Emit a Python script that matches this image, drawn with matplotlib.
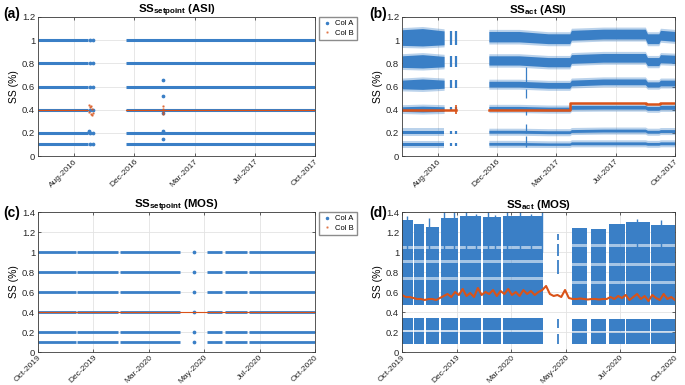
import numpy as np
import matplotlib
matplotlib.use('Agg')
import matplotlib.pyplot as plt
import matplotlib.dates as mdates
from matplotlib.lines import Line2D

plt.rcParams['font.family'] = ['Liberation Sans', 'DejaVu Sans']
plt.rcParams['mathtext.fontset'] = 'custom'
plt.rcParams['mathtext.rm'] = 'Liberation Sans'
plt.rcParams['mathtext.bf'] = 'Liberation Sans:bold'

azul = '#3a7fc6'
laranja = '#d95319'

#########################
##       dados         ##
#########################

niveis = [0.1, 0.2, 0.4, 0.6, 0.8, 1.0]

# ASI (a, b)
asi_xlim = ['2016-06-12', '2017-10-31']
asi_ticks = ['2016-08-17', '2016-12-05', '2017-03-25', '2017-07-13', '2017-10-31']
asi_labels = ['Aug-2016', 'Dec-2016', 'Mar-2017', 'Jul-2017', 'Oct-2017']

a_seg_start = ['2016-06-12', '2016-11-20']
a_seg_end = ['2016-09-11', '2017-10-31']
a_dot_dates = ['2016-09-15', '2016-09-20']
a_extra_dates = ['2016-09-14', '2016-09-14', '2017-01-27', '2017-01-27',
                 '2017-01-27', '2017-01-27', '2017-01-27']
a_extra_vals = [0.22, 0.21, 0.66, 0.52, 0.37, 0.22, 0.15]
a_or_dates = ['2016-09-13', '2016-09-14', '2016-09-15', '2016-09-16', '2016-09-17',
              '2016-09-18', '2016-09-19', '2016-09-20', '2017-01-26', '2017-01-26',
              '2017-01-27', '2017-01-27']
a_or_vals = [0.44, 0.38, 0.42, 0.36, 0.43, 0.35, 0.41, 0.37, 0.43, 0.38, 0.41, 0.36]

b1_dates = ['2016-06-12', '2016-07-20', '2016-08-29']
b1_lo = [[0.09, 0.09, 0.09], [0.19, 0.19, 0.19], [0.385, 0.38, 0.385],
         [0.58, 0.575, 0.585], [0.765, 0.76, 0.77], [0.955, 0.95, 0.96]]
b1_hi = [[0.115, 0.115, 0.115], [0.22, 0.22, 0.22], [0.425, 0.43, 0.425],
         [0.655, 0.665, 0.655], [0.865, 0.875, 0.86], [1.09, 1.10, 1.08]]
b_strip_dates = ['2016-09-11', '2016-09-20']

b2_dates = ['2016-11-20', '2017-01-15', '2017-03-10', '2017-04-19', '2017-04-22', '2017-06-20',
            '2017-09-06', '2017-09-10', '2017-10-01', '2017-10-04', '2017-10-31']
b2_lo = [[0.093, 0.093, 0.092, 0.092, 0.097, 0.097, 0.097, 0.093, 0.093, 0.097, 0.097],
         [0.197, 0.197, 0.193, 0.193, 0.203, 0.207, 0.207, 0.197, 0.197, 0.203, 0.203],
         [0.393, 0.393, 0.388, 0.388, 0.403, 0.405, 0.405, 0.395, 0.395, 0.403, 0.403],
         [0.595, 0.595, 0.585, 0.585, 0.605, 0.615, 0.615, 0.595, 0.595, 0.605, 0.605],
         [0.785, 0.785, 0.77, 0.77, 0.80, 0.81, 0.81, 0.78, 0.78, 0.805, 0.80],
         [0.985, 0.985, 0.97, 0.97, 1.00, 1.01, 1.01, 0.97, 0.97, 1.00, 0.99]]
b2_hi = [[0.117, 0.117, 0.113, 0.113, 0.122, 0.122, 0.122, 0.117, 0.117, 0.122, 0.122],
         [0.222, 0.222, 0.218, 0.218, 0.228, 0.232, 0.232, 0.222, 0.222, 0.228, 0.228],
         [0.428, 0.428, 0.422, 0.422, 0.437, 0.437, 0.437, 0.428, 0.428, 0.437, 0.437],
         [0.645, 0.645, 0.635, 0.635, 0.655, 0.665, 0.665, 0.64, 0.64, 0.655, 0.655],
         [0.865, 0.865, 0.85, 0.85, 0.875, 0.885, 0.885, 0.85, 0.85, 0.875, 0.87],
         [1.075, 1.075, 1.055, 1.055, 1.085, 1.095, 1.095, 1.055, 1.055, 1.085, 1.075]]
b_spike_date = '2017-01-27'
b_spike_lo = [0.08, 0.20, 0.35, 0.50, 0.64]
b_spike_hi = [0.17, 0.28, 0.42, 0.58, 0.77]

b1_or_dates = ['2016-06-12', '2016-09-21']
b1_or_vals = [0.395, 0.395]
b2_or_dates = ['2016-11-20', '2017-04-20', '2017-09-08', '2017-10-03', '2017-10-31']
b2_or_vals = [0.395, 0.457, 0.447, 0.46, 0.46]

# MOS (c, d)
mos_xlim = ['2019-10-15', '2020-10-09']
mos_ticks = ['2019-10-15', '2019-12-26', '2020-03-07', '2020-05-18', '2020-07-29', '2020-10-09']
mos_labels = ['Oct-2019', 'Dec-2019', 'Mar-2020', 'May-2020', 'Jul-2020', 'Oct-2020']

c_seg_start = ['2019-10-15', '2019-12-05', '2020-01-30', '2020-05-22', '2020-06-14', '2020-07-15']
c_seg_end = ['2019-12-03', '2020-01-27', '2020-04-17', '2020-06-10', '2020-07-13', '2020-10-09']
c_dot_dates = ['2020-05-05']

d_seg_start = ['2019-10-15', '2019-10-31', '2019-11-15', '2019-12-05', '2019-12-30', '2020-01-30',
               '2020-02-25', '2020-05-26', '2020-06-20', '2020-07-14', '2020-08-06', '2020-09-08']
d_seg_end = ['2019-10-29', '2019-11-13', '2019-12-03', '2019-12-28', '2020-01-27', '2020-02-23',
             '2020-04-18', '2020-06-15', '2020-07-10', '2020-08-04', '2020-09-06', '2020-10-09']
d_seg_top = [1.32, 1.28, 1.25, 1.34, 1.36, 1.35, 1.36, 1.24, 1.23, 1.28, 1.30, 1.27]
d_seg_late = [0, 0, 0, 0, 0, 0, 0, 1, 1, 1, 1, 1]
d_early_lo = [0.08, 0.22, 0.47, 0.745, 0.915, 1.065]
d_early_hi = [0.20, 0.34, 0.715, 0.885, 1.035]
d_late_lo = [0.08, 0.21, 0.47, 0.71, 0.89, 1.08]
d_late_hi = [0.185, 0.325, 0.68, 0.855, 1.05]
d_spike_dates = ['2019-10-22', '2019-11-20', '2019-12-10', '2019-12-22', '2020-01-08', '2020-01-20',
                 '2020-02-05', '2020-02-15', '2020-03-02', '2020-03-18', '2020-04-02', '2020-04-17',
                 '2020-08-20', '2020-09-20']
d_spike_top = [1.36, 1.34, 1.40, 1.40, 1.40, 1.38, 1.40, 1.37, 1.40, 1.40, 1.38, 1.40, 1.33, 1.32]
d_dash_date = '2020-05-08'
d_dash_lo = [0.08, 0.24, 0.78, 0.96, 1.12]
d_dash_hi = [0.18, 0.33, 0.92, 1.08, 1.18]

d_or_start = '2019-10-15'
d_or_vals = [0.57, 0.55, 0.55, 0.54, 0.53, 0.53, 0.52, 0.53, 0.53, 0.52,
             0.54, 0.56, 0.58, 0.55, 0.60, 0.57, 0.63, 0.56, 0.59, 0.55,
             0.64, 0.57, 0.60, 0.58, 0.62, 0.56, 0.61, 0.58, 0.63, 0.57,
             0.60, 0.56, 0.62, 0.58, 0.61, 0.57, 0.60, 0.62,
             0.66, 0.58, 0.56, 0.57, 0.55, 0.62, 0.54,
             0.53, 0.53, 0.535, 0.53, 0.525, 0.53, 0.53, 0.525, 0.53, 0.53,
             0.55, 0.53, 0.56, 0.54, 0.57, 0.52, 0.55, 0.58, 0.53, 0.56,
             0.51, 0.57, 0.54, 0.52, 0.58, 0.53, 0.55, 0.52]

#########################
##      funcoes        ##
#########################

def dn(s):
    return mdates.datestr2num(s)

W, H = 685, 385
fig = plt.figure(figsize=(W / 100, H / 100), dpi=100)
borda = 0.018   # halo claro em volta das faixas

def eixo(x0, x1, y0, y1):
    return fig.add_axes([x0 / W, 1 - y1 / H, (x1 - x0) / W, (y1 - y0) / H])

def faixa(ax, x, lo, hi):
    lo = np.asarray(lo, float)
    hi = np.asarray(hi, float)
    ax.fill_between(x, lo - borda, hi + borda, color=azul, lw=0, alpha=0.35)
    ax.fill_between(x, lo, hi, color=azul, lw=0)

def estilo(ax, xlim, ticks, labels, ymax, titulo, letra, lx, ly):
    ax.set_xlim(dn(xlim[0]), dn(xlim[1]))
    ax.set_xticks([dn(t) for t in ticks])
    ax.set_xticklabels(labels, rotation=45, ha='right', va='top', fontsize=6,
                       rotation_mode='anchor')
    ax.set_ylim(0, ymax)
    yt = np.round(np.arange(0, ymax + 0.01, 0.2), 1)
    ax.set_yticks(yt)
    ax.set_yticklabels(['%g' % v for v in yt], fontsize=6.8)
    ax.tick_params(direction='in', length=2.5, width=0.5, colors='#262626',
                   top=True, right=True, pad=2)
    ax.tick_params(axis='x', pad=1.5)
    ax.grid(True, color='#e3e3e3', lw=0.6)
    ax.set_axisbelow(True)
    for sp in ax.spines.values():
        sp.set_color('#3a3a3a')
        sp.set_linewidth(0.6)
    ax.set_title(titulo, fontsize=8.2, fontweight='bold', pad=3)
    ax.set_ylabel('SS (%)', fontsize=7.5, labelpad=2)
    fig.text(lx / W, 1 - ly / H, letra, fontsize=10, fontweight='bold',
             ha='left', va='center')

def legenda(ax, x, y):
    h = [Line2D([], [], ls='none', marker='.', ms=3, color=azul),
         Line2D([], [], ls='none', marker='.', ms=1.5, color=laranja, alpha=0.6)]
    ax.legend(h, ['Col A', 'Col B'], loc='upper left', fontsize=5.5,
              bbox_to_anchor=(x / W, 1 - y / H), bbox_transform=fig.transFigure,
              frameon=True, fancybox=False, edgecolor='#8c8c8c', framealpha=1,
              handlelength=1.2, handletextpad=0.5, borderpad=0.4, labelspacing=0.3,
              borderaxespad=0)

#########################
##        (a)          ##
#########################
ax = eixo(38, 315, 17, 156)
for s, e in zip(a_seg_start, a_seg_end):
    for n in niveis:
        ax.plot([dn(s), dn(e)], [n, n], color=azul, lw=2.2, solid_capstyle='butt')
    ax.plot([dn(s), dn(e)], [0.4, 0.4], color=laranja, lw=0.8)
for d in a_dot_dates:
    ax.plot([dn(d)] * len(niveis), niveis, ls='none', marker='o', ms=1.7, color=azul)
ax.plot([dn(d) for d in a_extra_dates], a_extra_vals, ls='none', marker='o', ms=1.7, color=azul)
ax.plot([dn(d) for d in a_or_dates], a_or_vals, ls='none', marker='.', ms=1.5, color=laranja, alpha=0.7)
estilo(ax, asi_xlim, asi_ticks, asi_labels, 1.2, r'SS$_{\mathbf{setpoint}}$ (ASI)', '(a)', 3, 14)
legenda(ax, 319, 17)

#########################
##        (b)          ##
#########################
ax = eixo(402, 675, 17, 156)
x1 = [dn(d) for d in b1_dates]
x2 = [dn(d) for d in b2_dates]
for i in range(len(niveis)):
    faixa(ax, x1, b1_lo[i], b1_hi[i])
    faixa(ax, x2, b2_lo[i], b2_hi[i])
    for d in b_strip_dates:
        ax.vlines(dn(d), b1_lo[i][-1], b1_hi[i][-1], color=azul, lw=1.6)
ax.vlines([dn(b_spike_date)] * len(b_spike_lo), b_spike_lo, b_spike_hi, color=azul, lw=0.9)
ax.plot([dn(d) for d in b1_or_dates], b1_or_vals, color=laranja, lw=1.8)
ax.vlines(dn('2016-09-20'), 0.36, 0.44, color=laranja, lw=1.2)
ax.plot([dn(d) for d in b2_or_dates], b2_or_vals, color=laranja, lw=1.8, drawstyle='steps-post')
estilo(ax, asi_xlim, asi_ticks, asi_labels, 1.2, r'SS$_{\mathbf{act}}$ (ASI)', '(b)', 369, 14)

#########################
##        (c)          ##
#########################
ax = eixo(38, 315, 212, 352)
for s, e in zip(c_seg_start, c_seg_end):
    for n in niveis:
        ax.plot([dn(s), dn(e)], [n, n], color=azul, lw=2.0, solid_capstyle='butt')
for d in c_dot_dates:
    ax.plot([dn(d)] * len(niveis), niveis, ls='none', marker='o', ms=1.7, color=azul)
ax.plot([dn(mos_xlim[0]), dn(mos_xlim[1])], [0.4, 0.4], color=laranja, lw=0.8)
estilo(ax, mos_xlim, mos_ticks, mos_labels, 1.4, r'SS$_{\mathbf{setpoint}}$ (MOS)', '(c)', 3, 213)
legenda(ax, 319, 212)

#########################
##        (d)          ##
#########################
ax = eixo(402, 675, 212, 352)
for s, e, top, late in zip(d_seg_start, d_seg_end, d_seg_top, d_seg_late):
    lo = d_late_lo if late else d_early_lo
    hi = (d_late_hi if late else d_early_hi) + [top]
    xs = [dn(s), dn(e)]
    # nuvem superior com falhas claras entre as faixas
    ax.fill_between(xs, [lo[2]] * 2, [top] * 2, color=azul, lw=0, alpha=0.45)
    ax.fill_between(xs, [lo[0]] * 2, [hi[1]] * 2, color=azul, lw=0, alpha=0.25)
    for a, b in zip(lo, hi):
        ax.fill_between(xs, [a, a], [b, b], color=azul, lw=0)
ax.vlines([dn(d) for d in d_spike_dates], 1.0, d_spike_top, color=azul, lw=1.0)
ax.vlines([dn(d_dash_date)] * len(d_dash_lo), d_dash_lo, d_dash_hi, color=azul, lw=1.3)
xo = dn(d_or_start) + 5 * np.arange(len(d_or_vals))
ax.plot(xo, d_or_vals, color=laranja, lw=1.5)
estilo(ax, mos_xlim, mos_ticks, mos_labels, 1.4, r'SS$_{\mathbf{act}}$ (MOS)', '(d)', 369, 213)

plt.savefig('out.png', dpi=100)
